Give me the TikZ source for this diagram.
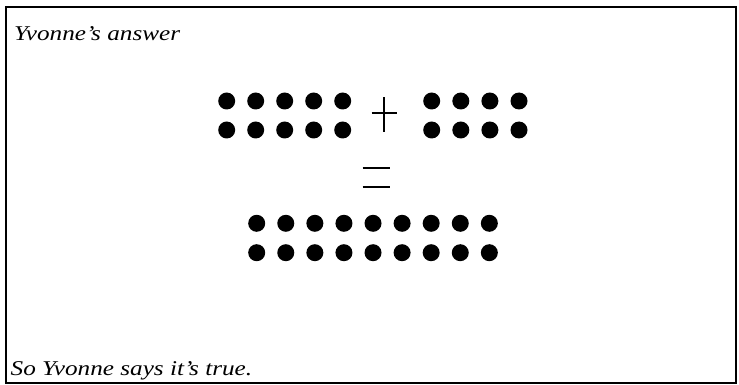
\documentclass[tikz,border=0pt]{standalone}
\usepackage{fontspec}
\setmainfont{Liberation Serif}
\newfontfamily\widefont[FakeStretch=1.2,Ligatures=TeX]{Liberation Serif}
\begin{document}
\begin{tikzpicture}[x=1pt, y=-1pt, every node/.style={font=\widefont\itshape\fontsize{21}{24}\selectfont}]
  \tikzstyle{dot}=[circle,fill=black,inner sep=0pt,minimum size=17pt]
  \tikzstyle{sign}=[line width=1.8pt]
  \useasboundingbox (0,0) rectangle (739,385);
  \draw[line width=1.3pt] (6,7) rectangle (736,383);
  \node[anchor=base west,inner sep=0pt] (head) at (14,40.7) {Yvonne’s answer};
  \node[anchor=base west,inner sep=0pt] (foot) at (10.5,375) {So Yvonne says it’s true.};
  % ten plus eight
  \foreach \i in {0,...,4} {
    \node[dot] (ta\i) at (226.7+29*\i,101) {};
    \node[dot] (ba\i) at (226.7+29*\i,130) {};
  }
  \foreach \i in {0,...,3} {
    \node[dot] (tb\i) at (431.7+29.1*\i,101) {};
    \node[dot] (bb\i) at (431.7+29.1*\i,130) {};
  }
  \draw[sign] (371.7,113.3) -- (397.3,113.3) (384,97.3) -- (384,131.7);
  \draw[sign] (362.7,168.3) -- (390,168.3) (362.7,187) -- (390,187);
  % eighteen
  \foreach \i in {0,...,8} {
    \node[dot] (tc\i) at (256.7+29.08*\i,223.3) {};
    \node[dot] (bc\i) at (256.7+29.08*\i,252.7) {};
  }
\end{tikzpicture}
\end{document}
